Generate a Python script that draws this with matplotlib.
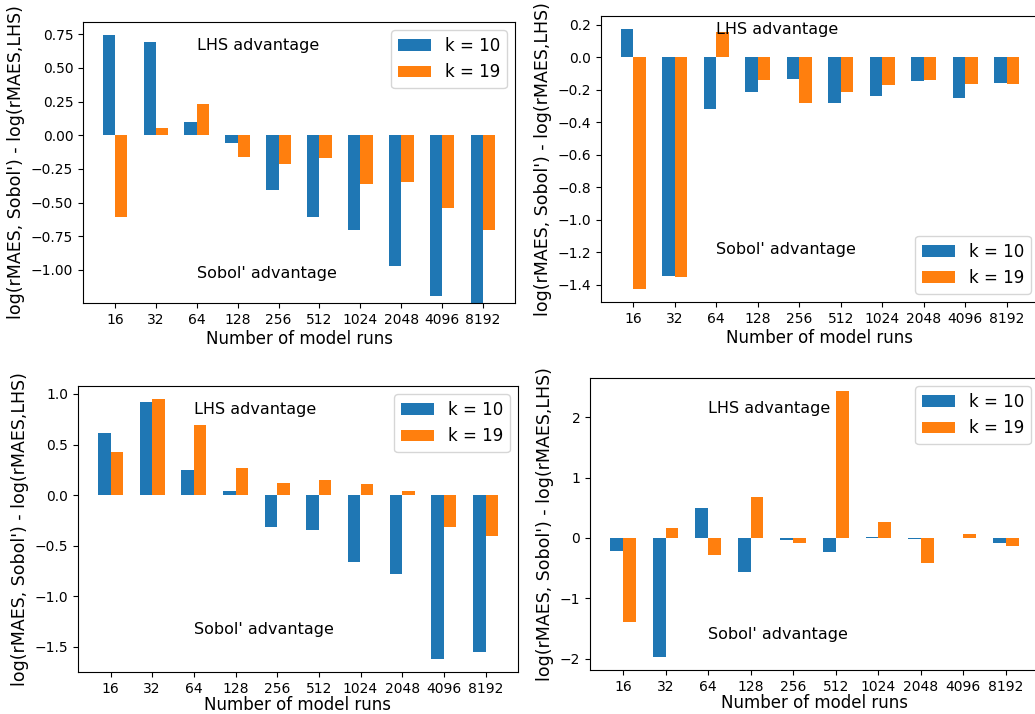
import numpy as np
import matplotlib.pyplot as plt

runs = ['16', '32', '64', '128', '256', '512', '1024', '2048', '4096', '8192']

# top left
k10_a = [0.74, 0.69, 0.10, -0.06, -0.41, -0.61, -0.70, -0.97, -1.19, -1.40]
k19_a = [-0.61, 0.05, 0.23, -0.16, -0.21, -0.17, -0.36, -0.35, -0.54, -0.70]
# top right
k10_b = [0.173, -1.346, -0.318, -0.213, -0.132, -0.279, -0.237, -0.149, -0.254, -0.157]
k19_b = [-1.425, -1.354, 0.157, -0.140, -0.279, -0.213, -0.173, -0.140, -0.165, -0.165]
# bottom left
k10_c = [0.61, 0.92, 0.25, 0.04, -0.32, -0.34, -0.66, -0.78, -1.62, -1.55]
k19_c = [0.43, 0.95, 0.69, 0.27, 0.12, 0.15, 0.11, 0.04, -0.32, -0.40]
# bottom right
k10_d = [-0.21, -1.97, 0.49, -0.57, -0.04, -0.23, 0.02, -0.015, 0.0, -0.08]
k19_d = [-1.40, 0.16, -0.28, 0.67, -0.08, 2.43, 0.27, -0.41, 0.07, -0.14]

panels = [
    # data, axes rect (px: left, top, width, height), text y's, legend loc, ylim, labelpad
    (k10_a, k19_a, (83, 22, 432, 281), 0.63, -1.06, 'upper right', (-1.245, 0.84), 2),
    (k10_b, k19_b, (601, 16, 438, 286), 0.14, -1.21, 'lower right', None, 2),
    (k10_c, k19_c, (78, 386, 440, 286), 0.80, -1.37, 'upper right', None, 0),
    (k10_d, k19_d, (590, 378, 449, 292), 2.07, -1.68, 'upper right', None, 0),
]

W, H = 1035, 714
fig = plt.figure(figsize=(W / 100, H / 100), dpi=100)

x = np.arange(len(runs))
width = 0.3

for k10, k19, (l, t, w, h), y_lhs, y_sob, loc, ylim, pad in panels:
    ax = fig.add_axes([l / W, 1 - (t + h) / H, w / W, h / H])
    ax.bar(x - width / 2, k10, width, color='tab:blue', label='k = 10')
    ax.bar(x + width / 2, k19, width, color='tab:orange', label='k = 19')
    ax.set_xticks(x)
    ax.set_xticklabels(runs)
    ax.tick_params(labelsize=10)
    if ylim is not None:
        ax.set_ylim(*ylim)
    ax.text(2, y_lhs, 'LHS advantage', fontsize=11.5)
    ax.text(2, y_sob, "Sobol' advantage", fontsize=11.5)
    ax.set_xlabel('Number of model runs', fontsize=12, labelpad=pad)
    ax.set_ylabel("log(rMAES, Sobol') - log(rMAES,LHS)", fontsize=12.5)
    ax.legend(loc=loc, fontsize=12)

fig.savefig('out.png', dpi=100)
